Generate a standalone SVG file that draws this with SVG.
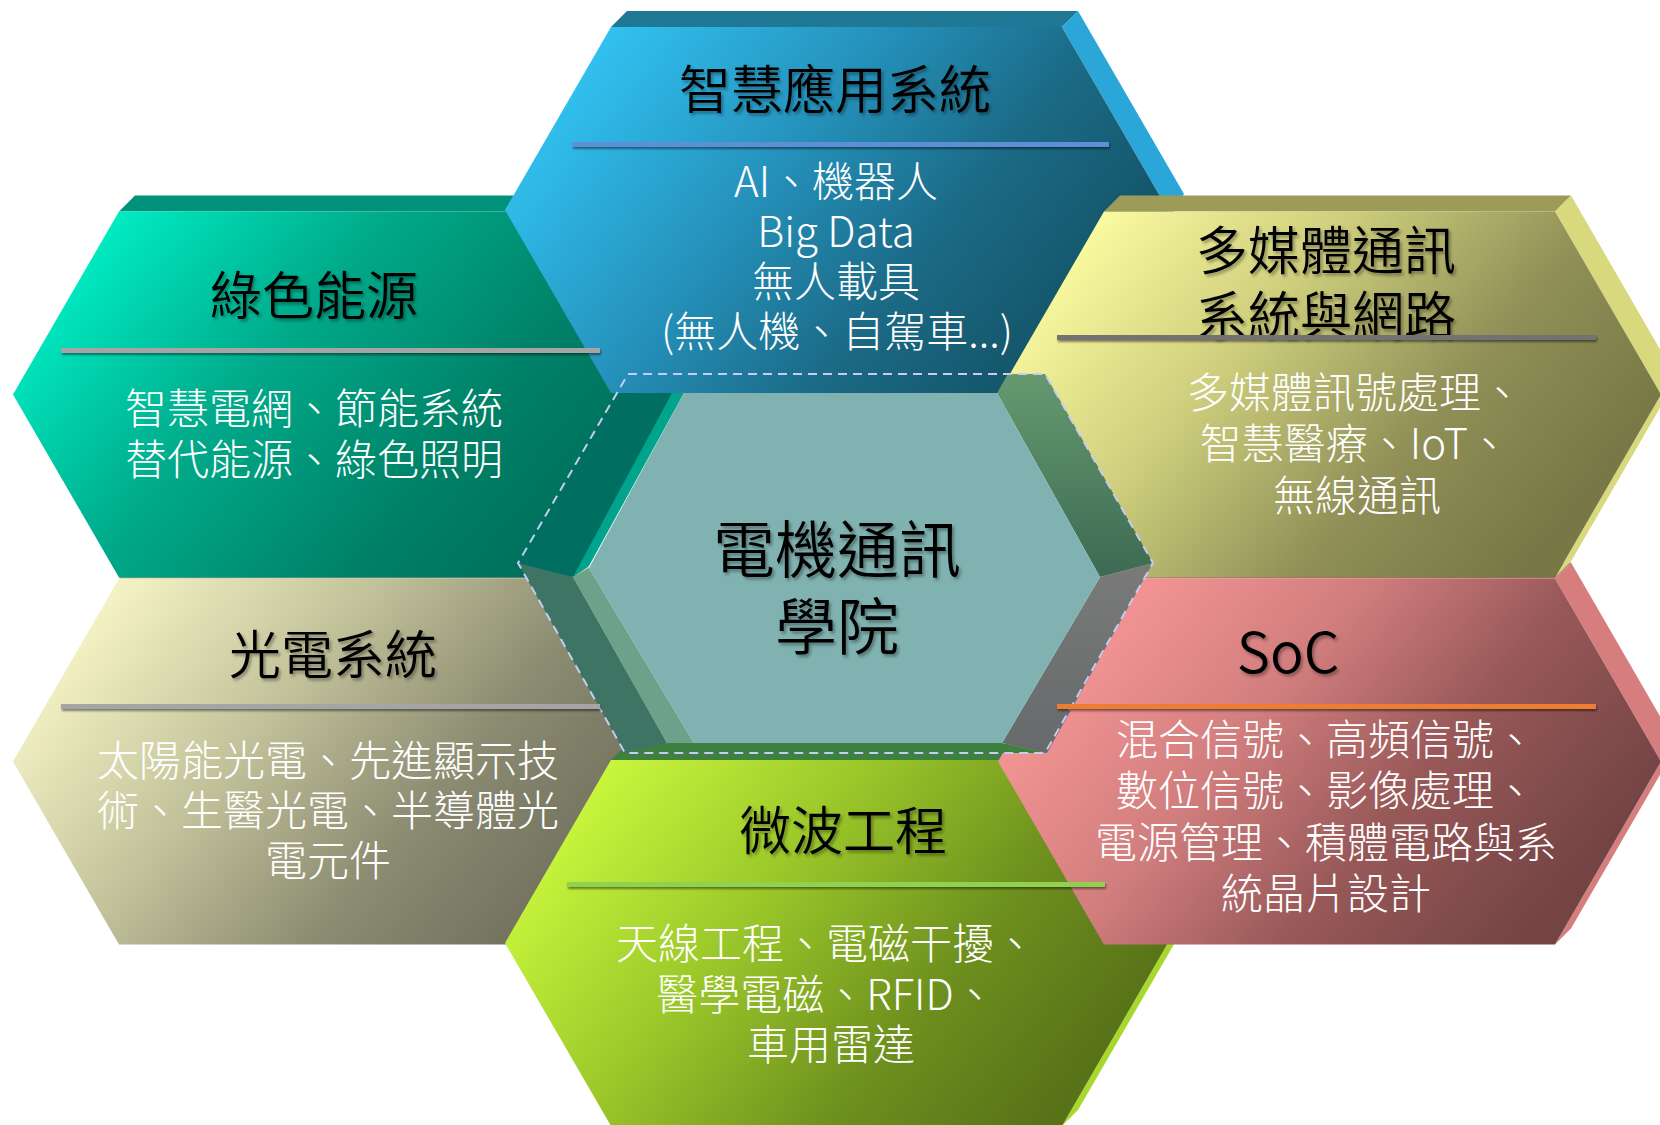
<svg xmlns="http://www.w3.org/2000/svg" width="1660" height="1125" viewBox="0 0 1660 1125">
<defs>
<linearGradient id="gBlue" gradientUnits="userSpaceOnUse" x1="570" y1="30" x2="1020" y2="390"><stop offset="0" stop-color="#33c8f8"/><stop offset="0.42" stop-color="#2592bc"/><stop offset="0.72" stop-color="#1b6a86"/><stop offset="1" stop-color="#145468"/></linearGradient>
<linearGradient id="gGreen" gradientUnits="userSpaceOnUse" x1="90" y1="215" x2="520" y2="578"><stop offset="0" stop-color="#00f2c8"/><stop offset="0.4" stop-color="#00aa8a"/><stop offset="0.75" stop-color="#008268"/><stop offset="1" stop-color="#00705c"/></linearGradient>
<linearGradient id="gYellow" gradientUnits="userSpaceOnUse" x1="1100" y1="215" x2="1520" y2="570"><stop offset="0" stop-color="#fafaa0"/><stop offset="0.35" stop-color="#cdcd7c"/><stop offset="0.7" stop-color="#8f8f57"/><stop offset="1" stop-color="#787846"/></linearGradient>
<linearGradient id="gBeige" gradientUnits="userSpaceOnUse" x1="100" y1="585" x2="530" y2="940"><stop offset="0" stop-color="#f8f6c8"/><stop offset="0.35" stop-color="#c6c69e"/><stop offset="0.7" stop-color="#8c8c72"/><stop offset="1" stop-color="#70705e"/></linearGradient>
<linearGradient id="gPink" gradientUnits="userSpaceOnUse" x1="1110" y1="590" x2="1530" y2="935"><stop offset="0" stop-color="#f69696"/><stop offset="0.35" stop-color="#d27e7e"/><stop offset="0.66" stop-color="#985858"/><stop offset="1" stop-color="#744444"/></linearGradient>
<linearGradient id="gLime" gradientUnits="userSpaceOnUse" x1="610" y1="765" x2="1050" y2="1115"><stop offset="0" stop-color="#c8f63c"/><stop offset="0.35" stop-color="#9cc82a"/><stop offset="0.7" stop-color="#6e901e"/><stop offset="1" stop-color="#587218"/></linearGradient>
<linearGradient id="gUR" x1="0" y1="0" x2="0" y2="1"><stop offset="0" stop-color="#66996f"/><stop offset="1" stop-color="#3c6a53"/></linearGradient>
<linearGradient id="gLR" x1="0" y1="0" x2="0" y2="1"><stop offset="0" stop-color="#7a7a7a"/><stop offset="1" stop-color="#666a6a"/></linearGradient>
<filter id="tshadow" x="-10%" y="-20%" width="120%" height="150%"><feDropShadow dx="2" dy="2.5" stdDeviation="1.5" flood-color="#000" flood-opacity="0.35"/></filter>
<filter id="lshadow" x="-5%" y="-100%" width="110%" height="400%"><feDropShadow dx="1" dy="2" stdDeviation="1.2" flood-color="#000" flood-opacity="0.45"/></filter>
<style>
.title{font-family:'Noto Sans CJK TC','Noto Sans',sans-serif;font-size:52px;font-weight:350;fill:#000;text-anchor:middle;filter:url(#tshadow)}
.body{font-family:'Noto Sans CJK TC','Noto Sans',sans-serif;font-size:42px;font-weight:300;fill:#fff;text-anchor:middle}
.sep{filter:url(#lshadow)}
.dash{fill:none;stroke:#c6cbf2;stroke-width:2;stroke-dasharray:9 6}
</style>
</defs>
<rect width="1660" height="1125" fill="#fff"/>

<g id="hex-photoelectric">
<polygon points="119,578.5 135,562.5 586,562.5 570,578.5" fill="#9c9c80"/>
<polygon points="570,578.5 586,562.5 692,745.5 676,761.5" fill="#c8c8a8"/>
<polygon points="676,761.5 692,745.5 586,928.5 570,944.5" fill="#c8c8a8"/>
<polygon points="13,761.5 119,578.5 570,578.5 676,761.5 570,944.5 119,944.5" fill="url(#gBeige)"/>
</g>
<g id="hex-green-energy">
<polygon points="119,211.5 135,195.5 586,195.5 570,211.5" fill="#00927a"/>
<polygon points="570,211.5 586,195.5 692,378.5 676,394.5" fill="#00c8a4"/>
<polygon points="13,394.5 119,211.5 570,211.5 676,394.5 570,577.5 119,577.5" fill="url(#gGreen)"/>
</g>
<g id="hex-smart-app">
<polygon points="611,27 627,11 1078,11 1062,27" fill="#1f7896"/>
<polygon points="1062,27 1078,11 1184,194 1168,210" fill="#2aa6d8"/>
<polygon points="1168,210 1184,194 1078,377 1062,393" fill="#2aa6d8"/>
<polygon points="505,210 611,27 1062,27 1168,210 1062,393 611,393" fill="url(#gBlue)"/>
</g>
<g id="hex-microwave">
<polygon points="611,760 627,744 1078,744 1062,760" fill="#3e8040"/>
<polygon points="1062,760 1078,744 1184,927 1168,943" fill="#a8d82c"/>
<polygon points="1168,943 1184,927 1078,1110 1062,1126" fill="#a8d82c"/>
<polygon points="505,943 611,760 1062,760 1168,943 1062,1126 611,1126" fill="url(#gLime)"/>
</g>
<g id="hex-soc">
<polygon points="1104,578.5 1120,562.5 1571,562.5 1555,578.5" fill="#b06464"/>
<polygon points="1555,578.5 1571,562.5 1677,745.5 1661,761.5" fill="#d67e7e"/>
<polygon points="1661,761.5 1677,745.5 1571,928.5 1555,944.5" fill="#d67e7e"/>
<polygon points="998,761.5 1104,578.5 1555,578.5 1661,761.5 1555,944.5 1104,944.5" fill="url(#gPink)"/>
</g>
<g id="hex-multimedia">
<polygon points="1104,211.5 1120,195.5 1571,195.5 1555,211.5" fill="#9c9c58"/>
<polygon points="1555,211.5 1571,195.5 1677,378.5 1661,394.5" fill="#d8d87c"/>
<polygon points="1661,394.5 1677,378.5 1571,561.5 1555,577.5" fill="#d8d87c"/>
<polygon points="998,394.5 1104,211.5 1555,211.5 1661,394.5 1555,577.5 1104,577.5" fill="url(#gYellow)"/>
</g>
<g id="hex-college">
<polygon points="617,393 683,393 588,566 573,577 518,563" fill="#006e60"/>
<polygon points="672,393 684,393 589,566 573,577" fill="#00a48c"/>
<polygon points="518,563 573,577 667,743 625,753" fill="#3e7464"/>
<polygon points="573,577 589,568 694,743 667,743" fill="#6ca28a"/>
<polygon points="997,393 1008,374 1045,374 1153,563 1100,577" fill="url(#gUR)"/>
<polygon points="1100,577 1153,563 1047,753 1002,743" fill="url(#gLR)"/>
<polygon points="667,743 1002,743 1047,753 625,753" fill="#3e8042"/>
<polygon points="684,393 997,393 1100,577 1002,743 694,743 589,568" fill="#7fb2b0"/>
<polygon class="dash" points="628,374 1045,374 1153,563 1045,753 625,753 518,563"/>
</g>
<g id="connectors"/>

<g id="labels">
<g id="label-smart-app">
<rect class="sep" x="572" y="142" width="537" height="5" fill="#5b8fd6"/>
<text class="title" x="835" y="109">智慧應用系統</text>
<text class="body" x="836" y="197">AI、機器人</text>
<text class="body" x="836" y="247">Big Data</text>
<text class="body" x="836" y="297">無人載具</text>
<text class="body" x="837" y="347">(無人機、自駕車...)</text>
</g>
<g id="label-green-energy">
<rect class="sep" x="61" y="348" width="539" height="5" fill="#a5a5a5"/>
<text class="title" x="314" y="315">綠色能源</text>
<text class="body" x="314" y="424">智慧電網、節能系統</text>
<text class="body" x="314" y="475">替代能源、綠色照明</text>
</g>
<g id="label-multimedia">
<text class="title" x="1326" y="270">多媒體通訊</text>
<text class="title" x="1326" y="335">系統與網路</text>
<rect class="sep" x="1057" y="335" width="539" height="5" fill="#727272"/>
<text class="body" x="1355" y="408">多媒體訊號處理、</text>
<text class="body" x="1355" y="459">智慧醫療、IoT、</text>
<text class="body" x="1357" y="511">無線通訊</text>
</g>
<g id="label-photoelectric">
<rect class="sep" x="61" y="704" width="539" height="5" fill="#a5a5a5"/>
<text class="title" x="333" y="674">光電系統</text>
<text class="body" x="328" y="776">太陽能光電、先進顯示技</text>
<text class="body" x="328" y="826">術、生醫光電、半導體光</text>
<text class="body" x="328" y="876">電元件</text>
</g>
<g id="label-soc">
<rect class="sep" x="1057" y="704" width="539" height="5" fill="#ed7d31"/>
<text class="title" x="1288" y="673" style="font-size:56px">SoC</text>
<text class="body" x="1326" y="755">混合信號、高頻信號、</text>
<text class="body" x="1326" y="806">數位信號、影像處理、</text>
<text class="body" x="1326" y="858">電源管理、積體電路與系</text>
<text class="body" x="1326" y="909">統晶片設計</text>
</g>
<g id="label-microwave">
<rect class="sep" x="567" y="882" width="538" height="5" fill="#92d050"/>
<text class="title" x="843" y="850">微波工程</text>
<text class="body" x="826" y="959">天線工程、電磁干擾、</text>
<text class="body" x="826" y="1010">醫學電磁、RFID、</text>
<text class="body" x="831" y="1060">車用雷達</text>
</g>
<g id="label-college">
<text class="title" x="837" y="573" style="font-size:62px">電機通訊</text>
<text class="title" x="837" y="650" style="font-size:62px">學院</text>
</g>
</g>
</svg>
